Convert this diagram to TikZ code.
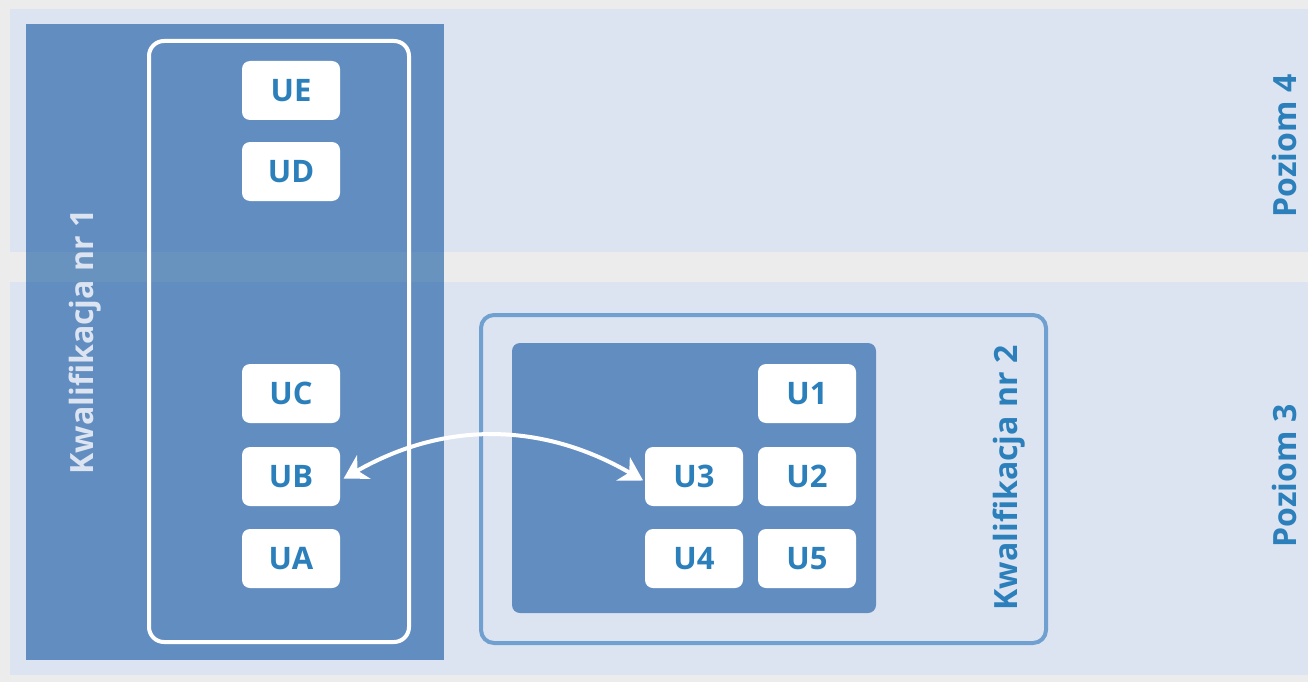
\documentclass[tikz,border=0pt]{standalone}
\usepackage{fontspec}
\setmainfont{Open Sans}
\usepackage{tikz}
\usetikzlibrary{arrows.meta}

\definecolor{bggray}{HTML}{ECECEC}
\definecolor{band}{HTML}{DDE4F1}
\definecolor{darkblue}{HTML}{628DC0}
\definecolor{gapblue}{HTML}{6893BF}
\definecolor{textblue}{HTML}{2B7FBB}
\definecolor{lineblue}{HTML}{6FA0CF}

\tikzset{
  ubox/.style={fill=white, rounded corners=8pt, minimum width=98pt, minimum height=59pt,
    inner sep=0pt, text=textblue, font=\fontsize{31}{31}\selectfont\bfseries},
  vlabel/.style={rotate=90, inner sep=0pt, font=\fontsize{32}{32}\selectfont\bfseries},
}

\begin{document}
\begin{tikzpicture}[x=1pt, y=-1pt]
    \useasboundingbox (0,0) rectangle (1308,682);
    \fill[bggray] (0,0) rectangle (1308,682);
    \fill[band] (10,9) rectangle (1308,252);
    \fill[band] (10,282) rectangle (1308,675);
    \fill[darkblue] (26,24) rectangle (444,660);
    \fill[gapblue] (26,252) rectangle (444,282);
    \draw[white, line width=4pt, rounded corners=15pt] (149,41) rectangle (409,642);
    \draw[lineblue, line width=4pt, rounded corners=13pt] (481,315) rectangle (1046,643);
    \fill[darkblue, rounded corners=8pt] (512,343) rectangle (876,613);
    \node[vlabel, text=band] (kw1) at (85,342) {Kwalifikacja nr 1};
    \node[vlabel, text=textblue] (kw2) at (1009,478) {Kwalifikacja nr 2};
    \node[vlabel, text=textblue] (p4) at (1284,146) {Poziom 4};
    \node[vlabel, text=textblue] (p3) at (1284,476) {Poziom 3};
    \node[ubox] (ue) at (291,90.5) {UE};
    \node[ubox] (ud) at (291,171.5) {UD};
    \node[ubox] (uc) at (291,393.5) {UC};
    \node[ubox] (ub) at (291,476.5) {UB};
    \node[ubox] (ua) at (291,558.5) {UA};
    \node[ubox] (u1) at (807,393.5) {U1};
    \node[ubox] (u3) at (694,476.5) {U3};
    \node[ubox] (u2) at (807,476.5) {U2};
    \node[ubox] (u4) at (694,558.5) {U4};
    \node[ubox] (u5) at (807,558.5) {U5};
    \draw[white, line width=4pt, {Stealth[length=23pt,width=27pt,inset=7pt]}-{Stealth[length=23pt,width=27pt,inset=7pt]},
      shorten <=4pt, shorten >=2pt]
      ([yshift=-4pt]ub.east) to[bend left=30] ([yshift=-5pt]u3.west);
\end{tikzpicture}
\end{document}
